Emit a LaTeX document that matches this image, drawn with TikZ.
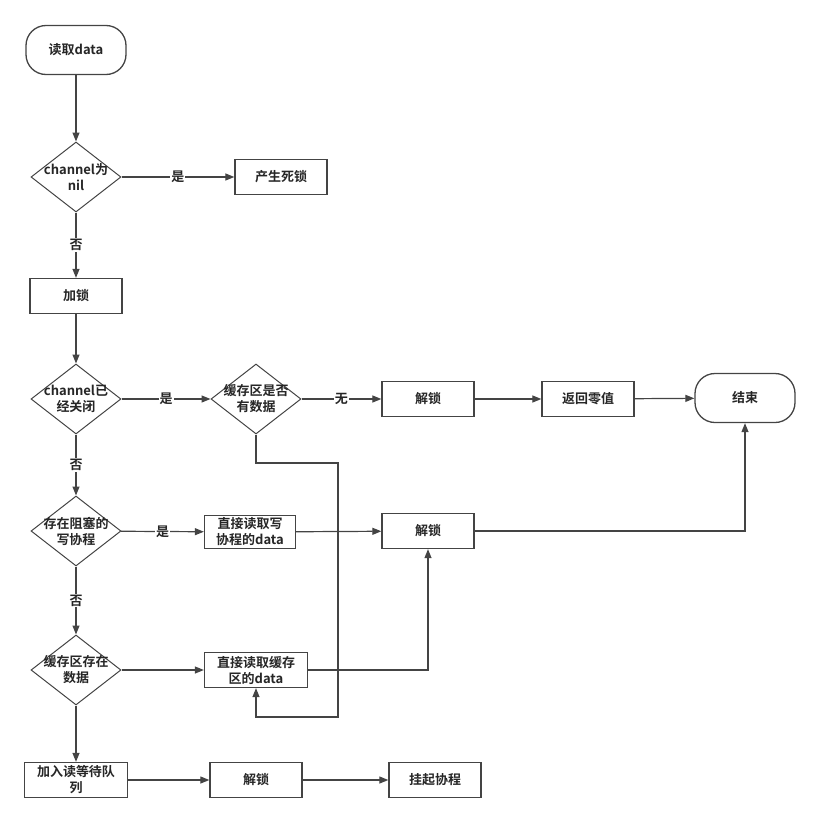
\documentclass[tikz,border=0pt]{standalone}
\usepackage{fontspec}
\setmainfont{Noto Sans CJK SC}[BoldFont={Noto Sans CJK SC Bold}]
\usetikzlibrary{shapes.geometric,arrows.meta}
\definecolor{linegray}{HTML}{444444}
\begin{document}
\begin{tikzpicture}[x=1pt, y=-1pt, >={Triangle[length=9pt,width=7pt]},
	font=\fontsize{13}{16}\selectfont\bfseries,
	every node/.style={align=center, text=black!85},
	startstop/.style={draw=linegray, line width=1.3pt, rounded corners=20pt, minimum width=100pt, minimum height=49pt},
	box/.style={draw=linegray, line width=1.3pt, minimum width=92pt, minimum height=35pt, inner sep=1pt},
	decision/.style={diamond, draw=linegray, line width=1pt, minimum width=90pt, minimum height=70pt, inner sep=0pt},
	flow/.style={->, draw=linegray, line width=1.2pt},
	tag/.style={fill=white, inner sep=1pt}]
	\useasboundingbox (0,0) rectangle (820,822);
	\node[startstop] (read) at (76,50) {读取data};
	\node[decision, label={center:channel为\\nil}] (isnil) at (76,177) {};
	\node[box] (deadlock) at (281,177) {产生死锁};
	\node[box] (lock) at (76,296) {加锁};
	\node[decision, label={center:channel已\\经关闭}] (closed) at (76,399) {};
	\node[decision, label={center:缓存区是否\\有数据}] (hasbuf) at (256,399) {};
	\node[box] (unlock1) at (428,399) {解锁};
	\node[box] (zero) at (588,399) {返回零值};
	\node[startstop] (end) at (745,398) {结束};
	\node[decision, label={center:存在阻塞的\\写协程}] (blocked) at (76,531) {};
	\node[box, minimum width=91pt, minimum height=33pt] (fromw) at (250,532) {直接读取写\\协程的data};
	\node[box] (unlock2) at (428,531) {解锁};
	\node[decision, label={center:缓存区存在\\数据}] (bufdata) at (76,670) {};
	\node[box, minimum width=103pt] (frombuf) at (256,670) {直接读取缓存\\区的data};
	\node[box, minimum width=103pt] (wait) at (76,780) {加入读等待队\\列};
	\node[box] (unlock3) at (256,780) {解锁};
	\node[box] (park) at (435,780) {挂起协程};
	\coordinate (loopA) at (338,463);
	\coordinate (loopB) at (338,717);

	\draw[flow] (read) -- (isnil);
	\draw[flow] (isnil) -- node[tag] {是} (deadlock);
	\draw[flow] (isnil) -- node[tag] {否} (lock);
	\draw[flow] (lock) -- (closed);
	\draw[flow] (closed) -- node[tag] {是} (hasbuf);
	\draw[flow] (hasbuf) -- node[tag] {无} (unlock1);
	\draw[flow] (unlock1) -- (zero);
	\draw[flow] (zero) -- (end);
	\draw[flow] (closed) -- node[tag] {否} (blocked);
	\draw[flow] (blocked) -- node[tag] {是} (fromw);
	\draw[flow] (fromw) -- (unlock2);
	\draw[flow] (unlock2) -| (end);
	\draw[flow] (blocked) -- node[tag] {否} (bufdata);
	\draw[flow] (bufdata) -- (frombuf);
	\draw[flow] (frombuf) -| (unlock2);
	\draw[flow] (hasbuf.south) |- (loopA) -- (loopB) -| (frombuf.south);
	\draw[flow] (bufdata) -- (wait);
	\draw[flow] (wait) -- (unlock3);
	\draw[flow] (unlock3) -- (park);
\end{tikzpicture}
\end{document}
